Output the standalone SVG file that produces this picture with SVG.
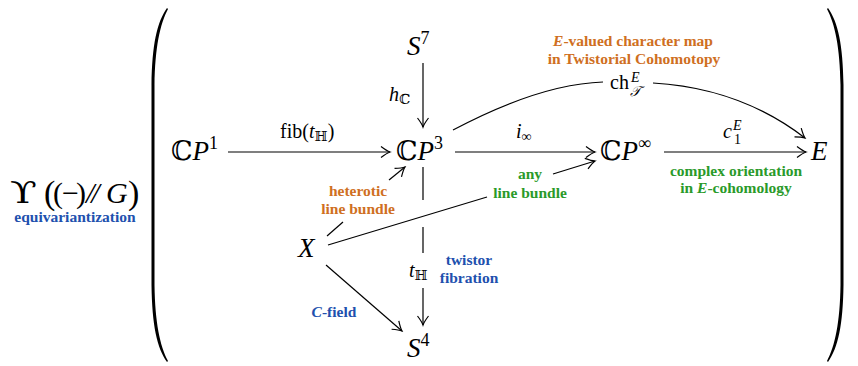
<svg xmlns="http://www.w3.org/2000/svg" width="858" height="366" viewBox="0 0 858 366">
<style>
.m{font-family:"Liberation Serif","DejaVu Serif",serif;fill:#000}
.n{font-size:27px}
.l{font-size:20px}
.i{font-style:italic}
.b{font-family:"Liberation Serif","DejaVu Serif",serif;font-weight:bold;font-size:15.5px;text-anchor:middle}
.or{fill:#cf6f22}
.gr{fill:#2a9a2a}
.bl{fill:#2150ae}
.c path{fill:none;stroke:#000;stroke-width:1.2}
.br{fill:#000}
</style>
<defs>
<marker id="ah" viewBox="-11 -7 13 14" refX="0" refY="0" markerWidth="13" markerHeight="14" markerUnits="userSpaceOnUse" orient="auto">
<path d="M-9,-5.5 Q-3,-1 0,0 Q-3,1 -9,5.5" fill="none" stroke="#000" stroke-width="1.2"/>
</marker>
</defs>

<g id="equivariantization">
<text font-family="DejaVu Serif" font-size="29" transform="translate(10,203) scale(1.35,1)">ϒ</text>
<text class="m" y="203" font-size="30"><tspan x="44" font-size="34" dy="1">(</tspan><tspan x="53" dy="-1">(</tspan><tspan x="62">−</tspan><tspan x="76">)</tspan><tspan x="86" letter-spacing="-3" font-size="30" class="i">//</tspan><tspan x="106" class="i">G</tspan><tspan x="128" font-size="34" dy="1">)</tspan></text>
<text class="b bl" x="75" y="222">equivariantization</text>
</g>

<g id="brackets">
<path class="br" d="M167,8 C157,22 152,45 151.5,85 L151.5,285 C152,325 157,348 167,362 L168,361 C160,346 155,322 154.5,285 L154.5,85 C155,48 160,24 168,9 Z"/>
<path class="br" d="M828,8 C838,22 843,45 843.5,85 L843.5,285 C843,325 838,348 828,362 L827,361 C835,346 840,322 840.5,285 L840.5,85 C840,48 835,24 827,9 Z"/>
</g>

<g id="CP1"><text class="m n" x="171" y="160">ℂ<tspan class="i">P</tspan><tspan font-size="18" dy="-11">1</tspan></text></g>
<g id="CP3"><text class="m n" x="396" y="160">ℂ<tspan class="i">P</tspan><tspan font-size="18" dy="-11">3</tspan></text></g>
<g id="CPinf"><text class="m n" x="600" y="160">ℂ<tspan class="i">P</tspan><tspan font-size="18" dy="-11">∞</tspan></text></g>
<g id="E"><text class="m n i" x="811" y="160">E</text></g>
<g id="S7"><text class="m n" x="407" y="55"><tspan class="i">S</tspan><tspan font-size="18" dy="-11">7</tspan></text></g>
<g id="S4"><text class="m n" x="407" y="357"><tspan class="i">S</tspan><tspan font-size="18" dy="-11">4</tspan></text></g>
<g id="X"><text class="m n i" x="298" y="257">X</text></g>

<g id="connectors" class="c">
<path d="M228,152 H390" marker-end="url(#ah)"/>
<path d="M423,63 V127" marker-end="url(#ah)"/>
<path d="M455,152 H595" marker-end="url(#ah)"/>
<path d="M664,152 H806" marker-end="url(#ah)"/>
<path d="M453,130 Q540,84 603,82"/>
<path d="M653,83 Q740,88 805,138" marker-end="url(#ah)"/>
<path d="M423,167 V200 M423,227 V253"/>
<path d="M423,288 V325" marker-end="url(#ah)"/>
<path d="M327,236 L343,222"/>
<path d="M389,180 L405,167" marker-end="url(#ah)"/>
<path d="M328,245 L487,197"/>
<path d="M553,174 L595,161" marker-end="url(#ah)"/>
<path d="M326,265 L402,331" marker-end="url(#ah)"/>
</g>

<g id="labels">
<text class="m l" x="280" y="138">fib(<tspan class="i">t</tspan><tspan font-size="14" dy="3">ℍ</tspan><tspan dy="-3">)</tspan></text>
<text class="m l" x="389" y="101"><tspan class="i">h</tspan><tspan font-size="14" dy="3">ℂ</tspan></text>
<text class="m l" x="516" y="138"><tspan class="i">i</tspan><tspan font-size="14" dy="3">∞</tspan></text>
<text class="m l" x="723" y="138"><tspan class="i">c</tspan><tspan font-size="14" x="733" y="130" class="i">E</tspan><tspan font-size="14" x="734" y="144">1</tspan></text>
<text class="m l" x="610" y="89">ch<tspan font-size="14" x="631" y="82" class="i">E</tspan><tspan font-size="14" x="630" y="96" class="i">𝒯</tspan></text>
<text class="m l" x="409" y="277"><tspan class="i">t</tspan><tspan font-size="14" dy="3">ℍ</tspan></text>

<text class="b or" x="633" y="46"><tspan class="i">E</tspan>-valued character map</text>
<text class="b or" x="634" y="64">in Twistorial Cohomotopy</text>
<text class="b gr" x="736" y="176">complex orientation</text>
<text class="b gr" x="736" y="193">in <tspan class="i">E</tspan>-cohomology</text>
<text class="b or" x="358" y="196">heterotic</text>
<text class="b or" x="358" y="214">line bundle</text>
<text class="b gr" x="530" y="179">any</text>
<text class="b gr" x="530" y="198">line bundle</text>
<text class="b bl" x="469" y="265">twistor</text>
<text class="b bl" x="469" y="283">fibration</text>
<text class="b bl" x="334" y="317"><tspan class="i">C</tspan>-field</text>
</g>
</svg>
